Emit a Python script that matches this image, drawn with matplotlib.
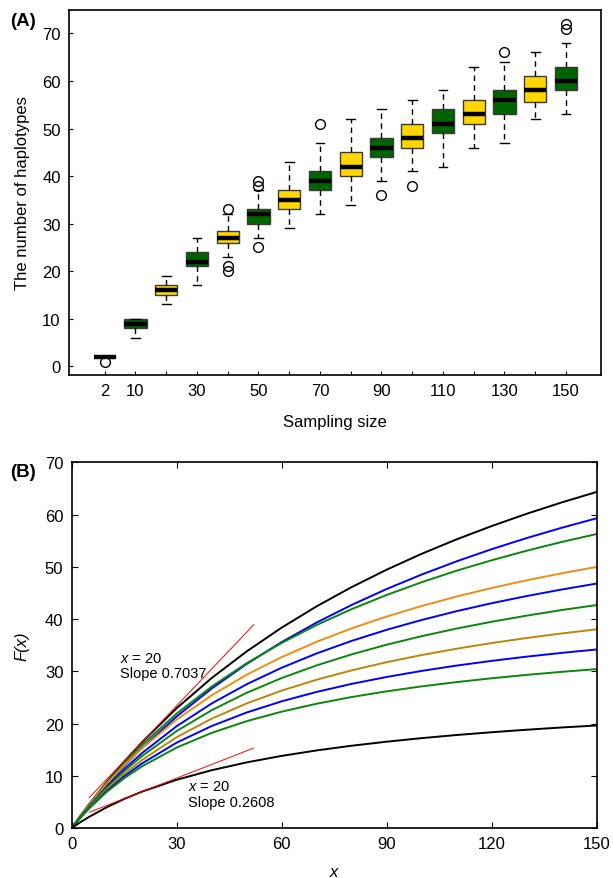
import numpy as np
import matplotlib.pyplot as plt

plt.rcParams['font.family'] = ['Liberation Sans', 'DejaVu Sans']
plt.rcParams['mathtext.fontset'] = 'custom'
plt.rcParams['mathtext.rm'] = 'Liberation Sans'
plt.rcParams['mathtext.it'] = 'Liberation Sans:italic'

# ---- panel A: boxplots of haplotype counts per sampling size
sizes = [2, 10, 20, 30, 40, 50, 60, 70, 80, 90, 100, 110, 120, 130, 140, 150]
med = [2, 9, 16, 22, 27, 32, 35, 39, 42, 46, 48, 51, 53, 56, 58, 60]
q1 = [2, 8, 15, 21, 26, 30, 33, 37, 40, 44, 46, 49, 51, 53, 55.5, 58]
q3 = [2, 10, 17, 24, 28.5, 33, 37, 41, 45, 48, 51, 54, 56, 58, 61, 63]
whis_lo = [2, 6, 13, 17, 23, 27, 29, 32, 34, 39, 41, 42, 46, 47, 52, 53]
whis_hi = [2, 10, 19, 27, 32, 37, 43, 47, 52, 54, 56, 58, 63, 64, 66, 68]
outliers = [[1], [], [], [], [33, 21, 20], [38, 39, 25], [], [51], [], [36], [38],
            [], [], [66], [], [71, 72]]
tick_labels = ['2', '10', '', '30', '', '50', '', '70', '', '90', '', '110', '', '130', '', '150']

# ---- panel B: F(x) curves
x_vals = [0, 2.5, 5, 10, 15, 20, 30, 40, 50, 60, 70, 80, 90, 100, 110, 120, 130, 140, 150]
curves = [
    ('black',   [0, 2.33, 4.57, 8.79, 12.71, 16.36, 22.94, 28.71, 33.81, 38.36, 42.44, 46.12, 49.45, 52.49, 55.26, 57.80, 60.15, 62.32, 64.33]),
    ('#0000ff', [0, 2.18, 4.27, 8.22, 11.87, 15.26, 21.36, 26.70, 31.41, 35.59, 39.34, 42.70, 45.75, 48.52, 51.05, 53.37, 55.50, 57.47, 59.29]),
    ('#0a870a', [0, 2.33, 4.55, 8.67, 12.42, 15.86, 21.91, 27.08, 31.54, 35.43, 38.86, 41.90, 44.61, 47.05, 49.26, 51.25, 53.08, 54.75, 56.28]),
    ('#f08c10', [0, 2.30, 4.46, 8.44, 12.00, 15.21, 20.76, 25.40, 29.34, 32.72, 35.65, 38.22, 40.48, 42.50, 44.31, 45.94, 47.41, 48.75, 49.98]),
    ('#0000ff', [0, 2.16, 4.20, 7.93, 11.27, 14.29, 19.49, 23.84, 27.52, 30.68, 33.42, 35.82, 37.94, 39.82, 41.51, 43.03, 44.40, 45.65, 46.79]),
    ('#0a870a', [0, 2.12, 4.10, 7.70, 10.88, 13.72, 18.57, 22.55, 25.88, 28.71, 31.13, 33.24, 35.09, 36.72, 38.18, 39.48, 40.65, 41.72, 42.68]),
    ('#b8860b', [0, 2.05, 3.95, 7.37, 10.35, 12.97, 17.38, 20.93, 23.85, 26.30, 28.39, 30.18, 31.74, 33.11, 34.32, 35.40, 36.37, 37.24, 38.03]),
    ('#0000ff', [0, 2.00, 3.83, 7.09, 9.89, 12.32, 16.34, 19.52, 22.11, 24.25, 26.05, 27.59, 28.91, 30.07, 31.09, 31.99, 32.80, 33.52, 34.17]),
    ('#0a870a', [0, 1.98, 3.77, 6.90, 9.53, 11.77, 15.40, 18.21, 20.45, 22.27, 23.79, 25.07, 26.16, 27.11, 27.93, 28.66, 29.31, 29.89, 30.41]),
    ('black',   [0, 1.12, 2.14, 3.97, 5.56, 6.94, 9.23, 11.06, 12.56, 13.80, 14.85, 15.75, 16.52, 17.20, 17.80, 18.33, 18.81, 19.24, 19.62]),
]
tangent_x = [5, 52]
tangent_hi = [5.8, 38.9]
tangent_lo = [3.0, 15.3]

fig = plt.figure(figsize=(6.13, 8.79), dpi=100)

ax1 = fig.add_axes([0.1126, 0.5722, 0.8679, 0.4152])
stats = []
for i in range(len(sizes)):
    stats.append(dict(med=med[i], q1=q1[i], q3=q3[i], whislo=whis_lo[i],
                      whishi=whis_hi[i], fliers=outliers[i]))
pos = np.arange(1, len(sizes) + 1)
bp = ax1.bxp(stats, positions=pos, widths=0.72, patch_artist=True,
             boxprops=dict(edgecolor='#3a3a3a', linewidth=1.0),
             medianprops=dict(color='black', linewidth=3.2, solid_capstyle='butt'),
             whiskerprops=dict(color='black', linewidth=1.0, linestyle=(0, (4, 3))),
             capprops=dict(color='black', linewidth=1.0),
             flierprops=dict(marker='o', markerfacecolor='none', markeredgecolor='black',
                             markersize=7, markeredgewidth=1.0))
for i, b in enumerate(bp['boxes']):
    b.set_facecolor('#ffd700' if i % 2 == 0 else '#006400')
for c in bp['caps']:
    xd = c.get_xdata()
    m = (xd[0] + xd[1]) / 2
    c.set_xdata([m - 0.14, m + 0.14])
ax1.set_xlim(-0.16, 17.14)
ax1.set_ylim(-1.83, 74.9)
ax1.set_xticks(pos)
ax1.set_xticklabels(tick_labels)
ax1.set_yticks(np.arange(0, 71, 10))
ax1.tick_params(direction='in', length=3, labelsize=12, pad=6)
ax1.set_xlabel('Sampling size', fontsize=12, labelpad=11)
ax1.set_ylabel('The number of haplotypes', fontsize=12, labelpad=9)
for s in ax1.spines.values():
    s.set_linewidth(1.2)
fig.text(0.016, 0.975, '(A)', fontsize=13.5, fontweight='bold', va='center')

ax2 = fig.add_axes([0.117, 0.0569, 0.8564, 0.4160])
for col, vals in curves:
    ax2.plot(x_vals, vals, color=col, linewidth=1.4)
ax2.plot(tangent_x, tangent_hi, color='red', linewidth=0.7)
ax2.plot(tangent_x, tangent_lo, color='red', linewidth=0.7)
ax2.text(13.8, 31.05, '$x$ = 20\nSlope 0.7037', fontsize=10.5, va='center', ha='left',
         linespacing=1.1)
ax2.text(33.3, 6.5, '$x$ = 20\nSlope 0.2608', fontsize=10.5, va='center', ha='left',
         linespacing=1.1)
ax2.set_xlim(0, 150)
ax2.set_ylim(0, 70)
ax2.set_xticks(np.arange(0, 151, 30))
ax2.set_yticks(np.arange(0, 71, 10))
ax2.tick_params(direction='in', length=4, labelsize=12, top=True, right=True, pad=6)
ax2.set_xlabel('x', fontsize=12, fontstyle='italic', labelpad=9)
ax2.set_ylabel('F(x)', fontsize=12, fontstyle='italic', labelpad=11)
for s in ax2.spines.values():
    s.set_linewidth(1.2)
fig.text(0.016, 0.463, '(B)', fontsize=13.5, fontweight='bold', va='center')

fig.savefig('out.png', dpi=100)
